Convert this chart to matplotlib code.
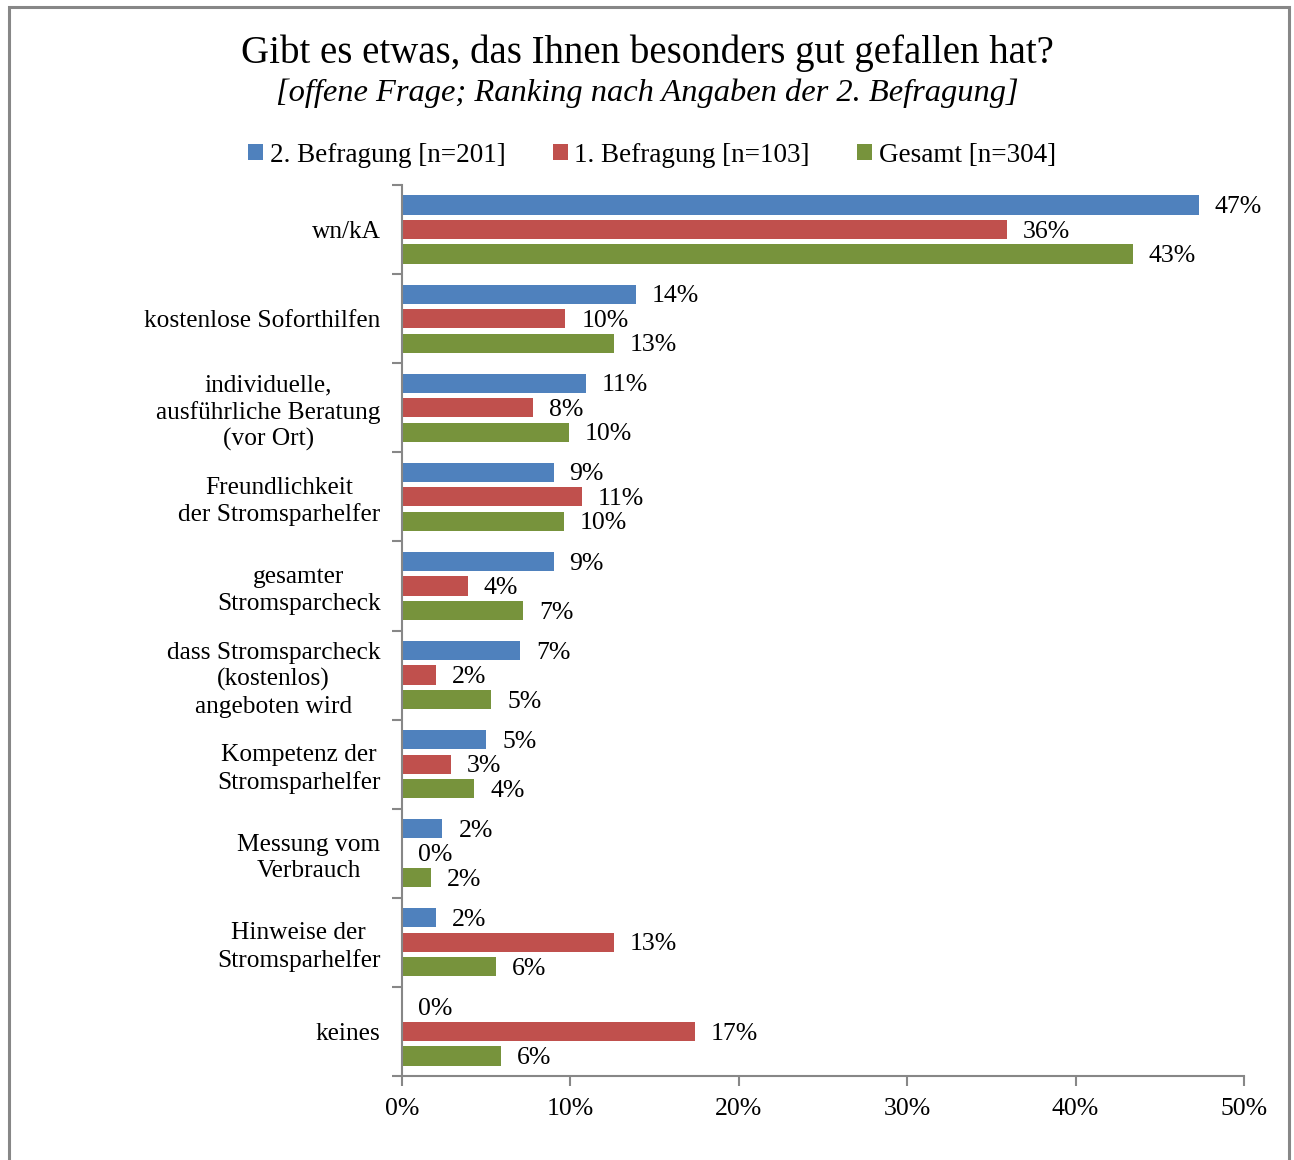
import numpy as np
import matplotlib.pyplot as plt
from matplotlib.patches import Rectangle

categories = [
    "wn/kA",
    "kostenlose Soforthilfen",
    "individuelle,\nausführliche Beratung\n(vor Ort)",
    "Freundlichkeit\nder Stromsparhelfer",
    "gesamter\nStromsparcheck",
    "dass Stromsparcheck\n(kostenlos)\nangeboten wird",
    "Kompetenz der\nStromsparhelfer",
    "Messung vom\nVerbrauch",
    "Hinweise der\nStromsparhelfer",
    "keines",
]
series_names = ["2. Befragung [n=201]", "1. Befragung [n=103]", "Gesamt [n=304]"]
befragung2 = [47.3, 13.9, 10.9, 9.0, 9.0, 7.0, 5.0, 2.4, 2.0, 0.0]
befragung1 = [35.9, 9.7, 7.8, 10.7, 3.9, 2.0, 2.9, 0.0, 12.6, 17.4]
gesamt = [43.4, 12.6, 9.9, 9.6, 7.2, 5.3, 4.3, 1.7, 5.6, 5.9]
colors = ["#4F81BD", "#C0504D", "#77933C"]

plt.rcParams["font.family"] = ["Liberation Serif", "DejaVu Serif"]

fig = plt.figure(figsize=(12.94, 11.6), dpi=100)
ax = fig.add_axes([402 / 1294, 1 - 1076 / 1160, (1244 - 402) / 1294, (1076 - 185) / 1160])

# chart border
fig.patches.append(Rectangle((8.5 / 1294, -0.01), (1289 - 8.5) / 1294, 1 - 6.5 / 1160 + 0.01,
                             transform=fig.transFigure, fill=False, edgecolor="#878787",
                             linewidth=2.2))

n = len(categories)
y = np.arange(n)
h = 0.215
step = 0.275
all_series = [befragung2, befragung1, gesamt]
for k, (vals, col, name) in enumerate(zip(all_series, colors, series_names)):
    pos = y + (k - 1) * step
    ax.barh(pos, vals, height=h, color=col, label=name)
    for p, v in zip(pos, vals):
        ax.annotate(f"{v:.0f}%", (v, p), xytext=(11.5, -1.5), textcoords="offset points",
                    ha="left", va="center", fontsize=18.5)

ax.set_ylim(n - 0.5, -0.5)
ax.set_xlim(0, 50)
ax.set_xticks(np.arange(0, 51, 10))
ax.set_xticklabels([f"{t}%" for t in range(0, 51, 10)], fontsize=18.5)

ax.set_yticks(np.arange(-0.5, n, 1.0))
ax.set_yticklabels([])
ax.set_yticks(y, minor=True)
ax.set_yticklabels(categories, minor=True, fontsize=18.3, multialignment="center",
                   linespacing=1.25)
ax.tick_params(axis="y", which="minor", length=0, pad=15.5)
ax.tick_params(axis="y", which="major", length=7, width=1.5, color="#878787")
ax.tick_params(axis="x", length=7, width=1.5, color="#878787", pad=9)

for s in ["top", "right"]:
    ax.spines[s].set_visible(False)
for s in ["left", "bottom"]:
    ax.spines[s].set_color("#878787")
    ax.spines[s].set_linewidth(1.5)

fig.text(0.5, 1 - 53 / 1160, "Gibt es etwas, das Ihnen besonders gut gefallen hat?",
         ha="center", va="center", fontsize=28)
fig.text(0.5, 1 - 93 / 1160, "[offene Frage; Ranking nach Angaben der 2. Befragung]",
         ha="center", va="center", fontsize=23.4, style="italic")

fig.legend(loc="center", bbox_to_anchor=(652 / 1294, 1 - 155 / 1160), ncol=3, frameon=False,
           fontsize=19.5, handlelength=0.55, handleheight=0.55, handletextpad=0.25,
           columnspacing=1.75)

fig.savefig("out.png", dpi=100)
